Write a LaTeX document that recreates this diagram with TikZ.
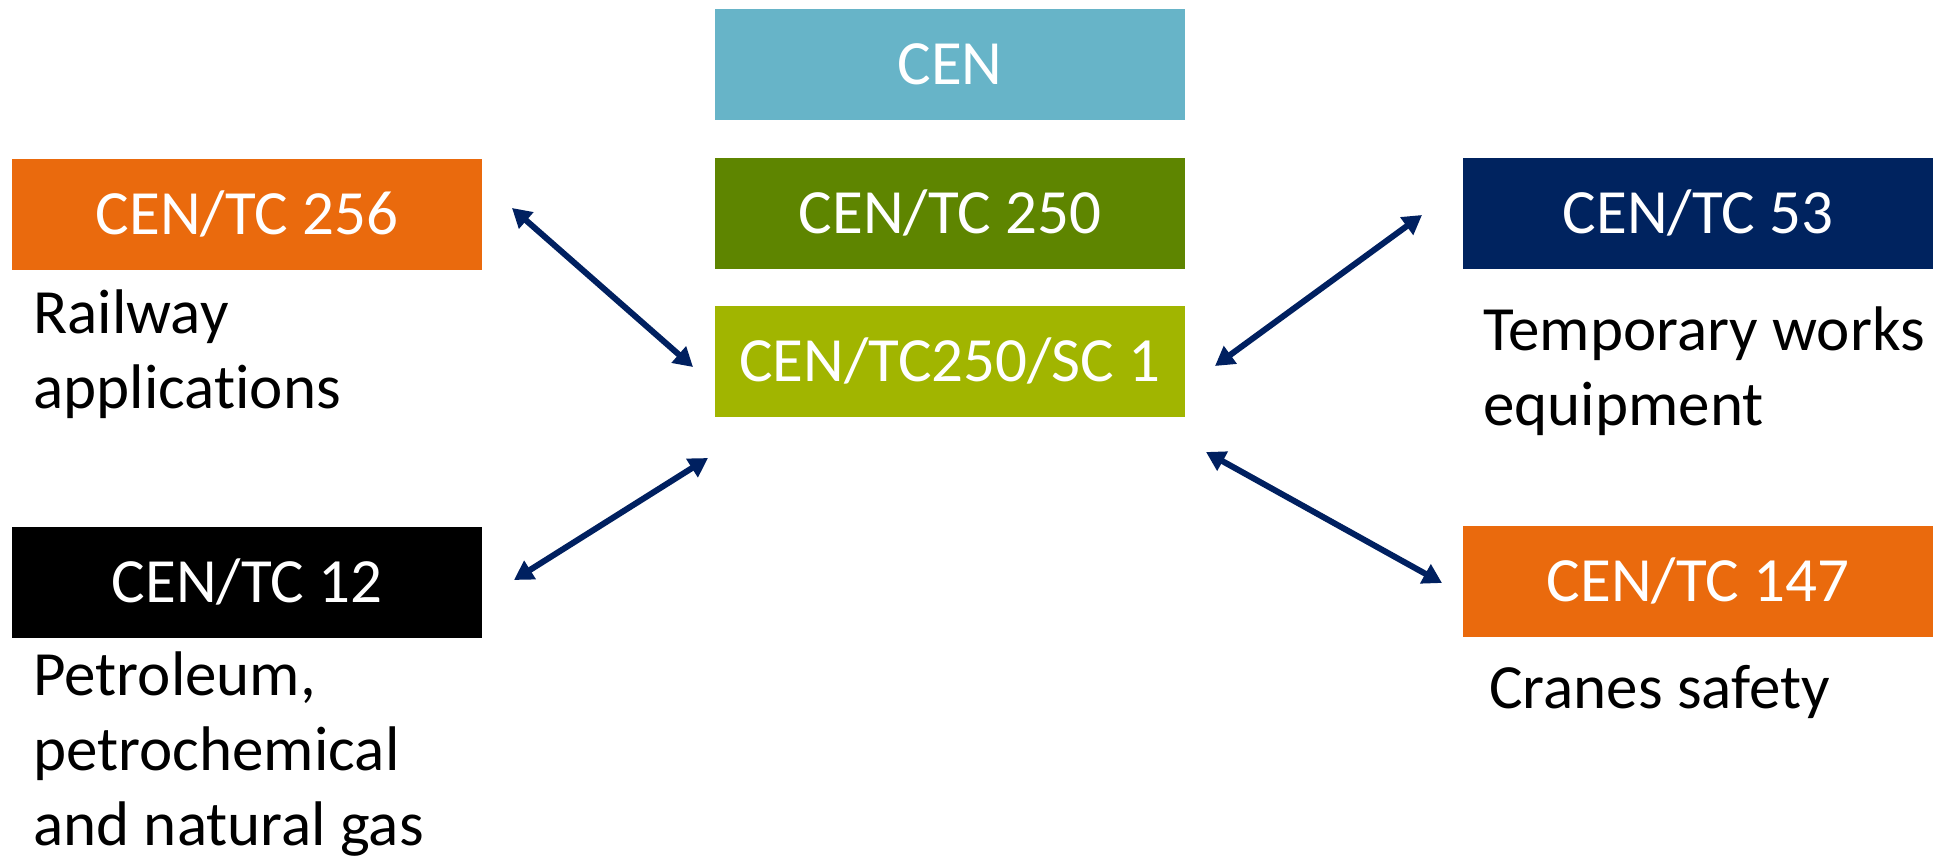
\documentclass[tikz,border=0pt]{standalone}
\usepackage{fontspec}
\setmainfont[Ligatures=NoCommon]{Carlito}
\usetikzlibrary{arrows.meta}
\definecolor{cenblue}{HTML}{67B4C8}
\definecolor{tcgreen}{HTML}{5E8500}
\definecolor{scgreen}{HTML}{A1B500}
\definecolor{tcorange}{HTML}{EA6A0D}
\definecolor{tcnavy}{HTML}{00235F}
\definecolor{arrownavy}{HTML}{002060}
\tikzset{
  box/.style={rectangle, minimum width=235pt, minimum height=55.5pt, inner sep=0pt,
    text=white, font=\fontsize{31.5}{37.5}\selectfont, text height=20.3pt, text depth=0pt},
  desc/.style={anchor=base west, inner sep=0pt, align=left, text=black,
    font=\fontsize{31.5}{37.5}\selectfont},
  link/.style={draw=arrownavy, line width=3pt,
    {Triangle[length=9.5pt,width=10.5pt]}-{Triangle[length=9.5pt,width=10.5pt]}}
}
\begin{document}
\begin{tikzpicture}[x=0.5pt,y=-0.5pt]
\useasboundingbox[fill=white] (0,0) rectangle (1938,862);
% central column
\node[box, fill=cenblue] (cen) at (950,64) {CEN};
\node[box, fill=tcgreen] (tc250) at (950,213.5) {CEN/TC 250};
\node[box, fill=scgreen] (sc1) at (950,361) {CEN/TC250/SC 1};
% left
\node[box, fill=tcorange] (tc256) at (247,214) {CEN/TC 256};
\node[box, fill=black] (tc12) at (247,582.5) {CEN/TC 12};
% right
\node[box, fill=tcnavy] (tc53) at (1698,213) {CEN/TC 53};
\node[box, fill=tcorange] (tc147) at (1698,581) {CEN/TC 147};
% descriptions (anchored at the baseline of the last line)
\node[desc] (d256) at (33,408) {Railway\\applications};
\node[desc] (d12) at (33,845) {Petroleum,\\petrochemical\\and natural gas};
\node[desc] (d53) at (1483,425) {Temporary works\\equipment};
\node[desc] (d147) at (1489,708) {Cranes safety};
% arrow ends
\coordinate (a1s) at (512,208);
\coordinate (a1e) at (693,367);
\coordinate (a2s) at (1422,215);
\coordinate (a2e) at (1215,366);
\coordinate (a3s) at (708,458);
\coordinate (a3e) at (514,580);
\coordinate (a4s) at (1206,452);
\coordinate (a4e) at (1442,583);
\draw[link] (a1s) -- (a1e);
\draw[link] (a2s) -- (a2e);
\draw[link] (a3s) -- (a3e);
\draw[link] (a4s) -- (a4e);
\end{tikzpicture}
\end{document}
